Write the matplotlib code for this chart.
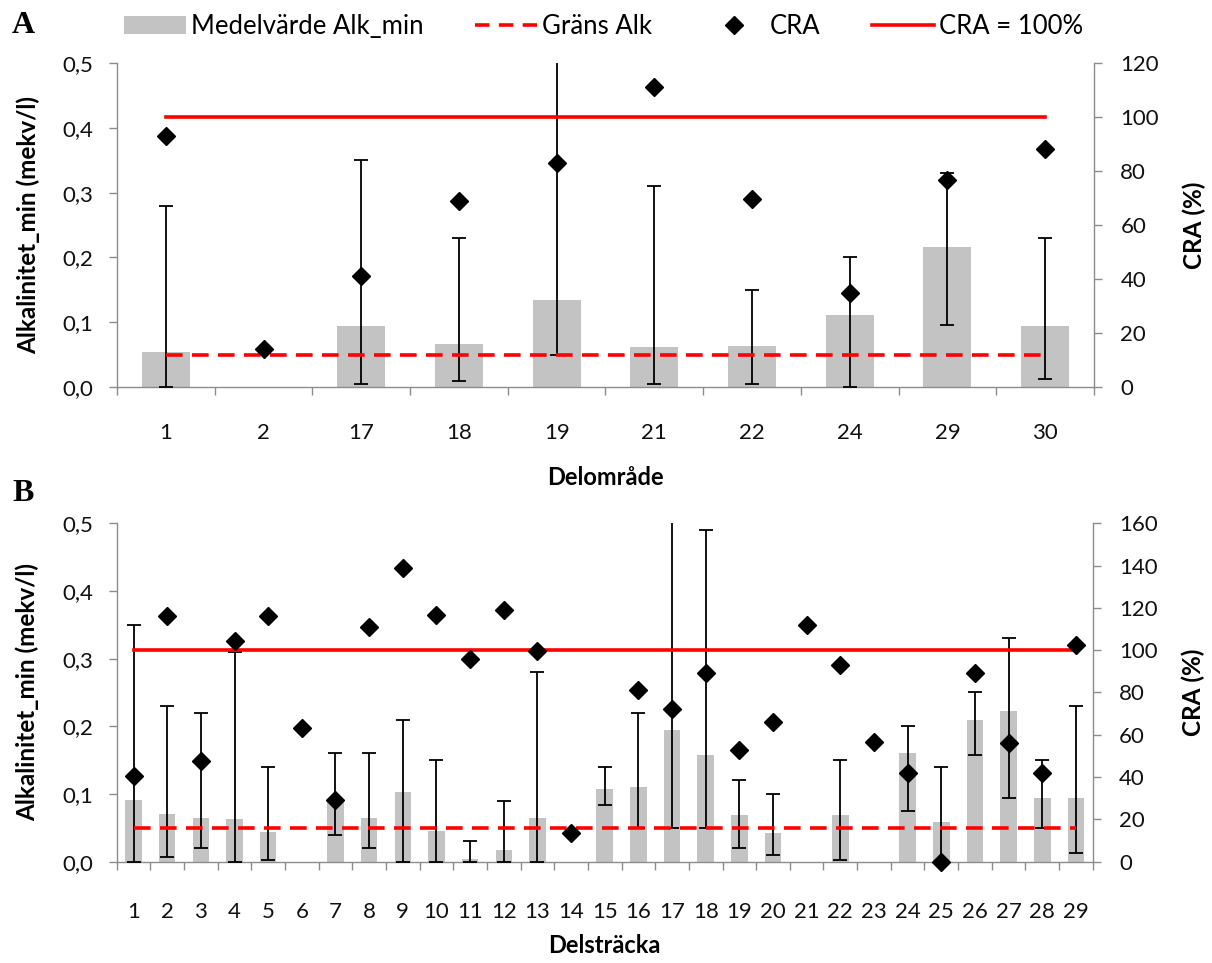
import matplotlib
matplotlib.use("Agg")
import matplotlib.pyplot as plt
from matplotlib.patches import Patch
from matplotlib.lines import Line2D
import numpy as np

plt.rcParams['font.family'] = ['Lato', 'DejaVu Sans']

# Delområde (panel A)
omr_labels = ['1', '2', '17', '18', '19', '21', '22', '24', '29', '30']
omr_mean = [0.054, np.nan, 0.094, 0.067, 0.134, 0.061, 0.064, 0.111, 0.216, 0.094]
omr_low = [0.0, np.nan, 0.005, 0.01, 0.05, 0.005, 0.005, 0.0, 0.095, 0.013]
omr_high = [0.28, np.nan, 0.35, 0.23, 0.52, 0.31, 0.15, 0.20, 0.33, 0.23]
omr_cra = [93, 14, 41, 69, 83, 111, 69.5, 35, 76.5, 88]

# Delsträcka (panel B)
str_labels = [str(i) for i in range(1, 30)]
str_mean = [0.091, 0.071, 0.064, 0.063, 0.044, np.nan, 0.089, 0.064, 0.103, 0.045,
            0.004, 0.017, 0.064, np.nan, 0.108, 0.111, 0.195, 0.158, 0.069, 0.042,
            np.nan, 0.069, np.nan, 0.160, 0.059, 0.209, 0.222, 0.094, 0.094]
str_low = [0.0, 0.007, 0.02, 0.0, 0.003, np.nan, 0.04, 0.02, 0.0, 0.0,
           0.0, 0.0, 0.0, np.nan, 0.084, 0.05, 0.05, 0.05, 0.02, 0.01,
           np.nan, 0.003, np.nan, 0.075, 0.0, 0.157, 0.094, 0.05, 0.013]
str_high = [0.35, 0.23, 0.22, 0.31, 0.14, np.nan, 0.16, 0.16, 0.21, 0.15,
            0.03, 0.09, 0.28, np.nan, 0.14, 0.22, 0.52, 0.49, 0.12, 0.10,
            np.nan, 0.15, np.nan, 0.20, 0.14, 0.25, 0.33, 0.15, 0.23]
str_cra = [40.5, 116, 47.5, 104.5, 116, 63, 29, 111, 139, 116.5,
           96, 119, 99.5, 13.5, np.nan, 81, 72, 89, 53, 66,
           112, 93, 56.5, 42, 0, 89, 56, 42, 102.5]

grans_alk = 0.05
cra_ref = 100

bar_col = '#c3c3c3'
spine_col = '#8c8c8c'
txt_col = '#111111'
red = '#ff0000'
dash = (0, (4.6, 2.6))


def comma(v):
    return f"{v:.1f}".replace('.', ',')


def draw_panel(ax, labels, mean, low, high, cra, cra_max, xlabel, xpad, xlab_y):
    n = len(labels)
    x = np.arange(n)
    mean = np.array(mean)
    low = np.array(low)
    high = np.array(high)
    ax.bar(x, np.nan_to_num(mean), width=0.49, color=bar_col, zorder=1)
    ok = ~np.isnan(mean)
    ax.errorbar(x[ok], mean[ok], yerr=[mean[ok] - low[ok], high[ok] - mean[ok]],
                fmt='none', ecolor='black', elinewidth=1.3, capsize=5,
                capthick=1.3, zorder=3)
    ax.plot(x, [grans_alk] * n, color=red, lw=2.6, ls=dash, zorder=4)
    ax.set_xlim(-0.5, n - 0.5)
    ax.set_ylim(0, 0.5)
    yt = np.arange(0, 0.51, 0.1)
    ax.set_yticks(yt)
    ax.set_yticklabels([comma(v) for v in yt])
    ax.set_xticks(np.arange(n + 1) - 0.5)
    ax.set_xticklabels([])
    ax.set_xticks(x, minor=True)
    ax.set_xticklabels(labels, minor=True)
    ax.tick_params(axis='x', which='major', length=6, width=1, color=spine_col,
                   direction='out')
    ax.tick_params(axis='x', which='minor', length=0, pad=xpad, labelsize=16,
                   labelcolor=txt_col)
    ax.tick_params(axis='y', length=6, width=1, color=spine_col, labelsize=16,
                   labelcolor=txt_col, pad=11)
    for s in ['top', 'right']:
        ax.spines[s].set_visible(False)
    for s in ['left', 'bottom']:
        ax.spines[s].set_color(spine_col)
        ax.spines[s].set_linewidth(1)
    ax.set_ylabel('Alkalinitet_min (mekv/l)', fontsize=17.5, fontweight='bold')
    ax.yaxis.set_label_coords(-0.079, 0.5)
    ax.set_xlabel(xlabel, fontsize=17, fontweight='bold')
    ax.xaxis.set_label_coords(0.5, xlab_y)

    ax2 = ax.twinx()
    ax2.plot(x, [cra_ref] * n, color=red, lw=2.6, zorder=2)
    ax2.plot(x, cra, ls='none', marker='D', ms=9, color='black', zorder=5,
             clip_on=False)
    ax2.set_ylim(0, cra_max)
    ax2.set_yticks(np.arange(0, cra_max + 1, 20))
    ax2.tick_params(axis='y', length=6, width=1, color=spine_col, labelsize=16,
                    labelcolor=txt_col, pad=13)
    for s in ['top', 'left', 'bottom']:
        ax2.spines[s].set_visible(False)
    ax2.spines['right'].set_color(spine_col)
    ax2.spines['right'].set_linewidth(1)
    ax2.set_ylabel('CRA (%)', fontsize=17.5, fontweight='bold')
    ax2.yaxis.set_label_coords(1.091, 0.5)
    return ax2


fig = plt.figure(figsize=(12.12, 9.63), dpi=100)

axA = fig.add_axes([0.0965, 0.5981, 0.8061, 0.3365])
draw_panel(axA, omr_labels, omr_mean, omr_low, omr_high, omr_cra, 120,
           'Delområde', 26, -0.245)

axB = fig.add_axes([0.0963, 0.1052, 0.8053, 0.3514])
draw_panel(axB, str_labels, str_mean, str_low, str_high, str_cra, 160,
           'Delsträcka', 29, -0.215)

fig.text(0.010, 0.974, 'A', family='Liberation Serif', fontweight='bold',
         fontsize=23, va='center')
fig.text(0.010, 0.488, 'B', family='Liberation Serif', fontweight='bold',
         fontsize=23, va='center')

handles = [Patch(facecolor=bar_col, edgecolor='none'),
           Line2D([], [], color=red, lw=2.6, ls=(0, (4, 2.6))),
           Line2D([], [], ls='none', marker='D', ms=9, color='black'),
           Line2D([], [], color=red, lw=2.6)]
names = ['Medelvärde Alk_min', 'Gräns Alk', 'CRA', 'CRA = 100%']
fig.legend(handles, names, loc='center', bbox_to_anchor=(0.498, 0.973), ncol=4,
           frameon=False, fontsize=18.5, handlelength=2.4, handletextpad=0.2,
           columnspacing=2.0, borderaxespad=0)

fig.savefig('out.png', dpi=100)
